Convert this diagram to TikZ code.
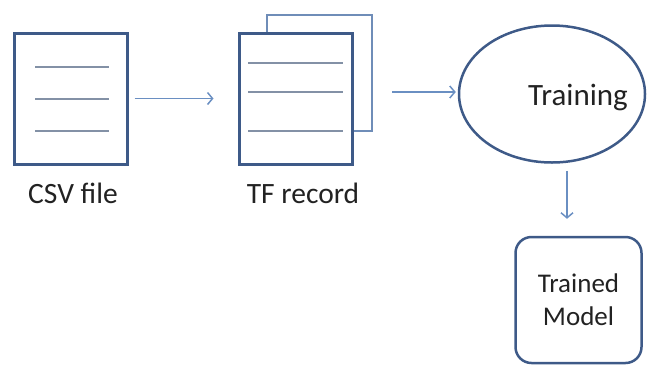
\documentclass[tikz,border=0pt]{standalone}
\usepackage{fontspec}
\setmainfont{Carlito}
\usepackage{xcolor}
\usetikzlibrary{arrows, arrows.meta}
\usetikzlibrary{calc}
\usetikzlibrary{shapes.geometric}

\definecolor{boxblue}{HTML}{3E5A88}
\definecolor{backblue}{HTML}{6F8DB8}
\definecolor{rowgray}{HTML}{8391A6}
\definecolor{arrowblue}{HTML}{6A8FC2}
\definecolor{txtgray}{HTML}{222222}

\tikzset{
  doc/.style={rectangle, draw=boxblue, line width=3pt, fill=white, inner sep=0pt, minimum width=113pt, minimum height=131pt},
  row/.style={draw=rowgray, line width=2pt},
  conn/.style={draw=arrowblue, line width=1.5pt, -{Straight Barb[length=5pt, width=12pt]}},
  lbl/.style={font=\fontsize{29.5}{34}\selectfont, text=txtgray, inner sep=0pt}
}

\begin{document}
\begin{tikzpicture}[x=1pt, y=-1pt]
      \useasboundingbox (0,0) rectangle (647,368);

      \node[doc] (csv) at (70.5,98.5) {};
      \foreach \yy in {67,99,131}
        \draw[row] (35,\yy) -- (109,\yy);
      \node[lbl, anchor=base] (csvlbl) at (73,203) {CSV file};

      \draw[draw=backblue, line width=2pt] (267,33) -- (267,15) -- (372,15) -- (372,131) -- (352,131);
      \node[doc] (tfrec) at (295.5,98.5) {};
      \foreach \yy in {63,92,131}
        \draw[row] (248,\yy) -- (343,\yy);
      \coordinate (tfback) at (372,92);
      \node[lbl, anchor=base] (tflbl) at (303,203) {TF record};

      \node[ellipse, draw=boxblue, line width=2.5pt, minimum width=186pt, minimum height=137pt, inner sep=0pt] (train) at (552,94) {};
      \node[lbl, font=\fontsize{31}{36}\selectfont] (traintxt) at (578,97) {Training};

      \node[rectangle, rounded corners=16pt, draw=boxblue, line width=2.5pt, minimum width=126pt, minimum height=126pt, align=center, lbl, font=\fontsize{27}{33}\selectfont] (model) at (578.5,300) {Trained\\Model};

      \draw[conn, shorten <=6pt, shorten >=24pt] (csv.east) -- (tfrec.west |- csv.east);
      \draw[conn, shorten <=20pt, shorten >=2pt] (tfback) -- (train.west |- tfback);
      \draw[conn, shorten <=7pt, shorten >=17pt] ([xshift=15pt]train.south) -- ([xshift=15pt]train.south |- model.north);
    \end{tikzpicture}
\end{document}
